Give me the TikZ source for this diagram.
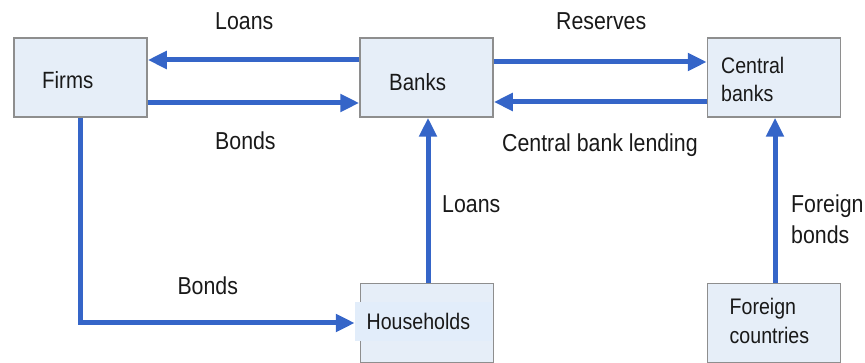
\documentclass[tikz,border=0pt]{standalone}
\usepackage{fontspec}
\setmainfont{Liberation Sans}[FakeStretch=0.87]
\usetikzlibrary{arrows.meta}
\definecolor{flowblue}{HTML}{3565C8}
\definecolor{boxfill}{HTML}{E6EEF8}
\definecolor{bandfill}{HTML}{E2EDFA}
\definecolor{boxline}{HTML}{8E8E8E}
\tikzset{
  acct/.style={draw=boxline, line width=1.5pt, fill=boxfill, minimum width=133pt, minimum height=79pt, inner sep=0pt},
  lbl/.style={anchor=base west, inner sep=0pt, font=\fontsize{24.5}{28}\selectfont, text=black!90},
  boxtxt/.style={anchor=base west, inner sep=0pt, font=\fontsize{23.5}{28}\selectfont, text=black!90},
  smalltxt/.style={anchor=base west, inner sep=0pt, font=\fontsize{22.5}{28}\selectfont, text=black!90},
  flow/.style={draw=flowblue, line width=5pt, -{Triangle[length=19pt,width=17pt]}}
}
\begin{document}
\begin{tikzpicture}[x=1pt,y=-1pt]
\useasboundingbox (0,0) rectangle (865,363);
% boxes
\node[acct] (firms) at (80.5,77.5) {};
\node[acct] (banks) at (426.5,77.5) {};
\node[acct] (cb) at (774,77.5) {};
\node[acct] (households) at (427,323) {};
\node[acct] (foreign) at (774,323) {};
\fill[bandfill] (355,302) rectangle (492,341);
% box texts
\node[boxtxt] (tfirms) at (42,88.5) {Firms};
\node[boxtxt] (tbanks) at (389,90.5) {Banks};
\node[smalltxt] (tcb1) at (721,73.5) {Central};
\node[smalltxt] (tcb2) at (721,101.5) {banks};
\node[smalltxt] (thh) at (366.5,329.3) {Households};
\node[smalltxt] (tfc1) at (729.5,315) {Foreign};
\node[smalltxt] (tfc2) at (729.5,343.3) {countries};
% connectors
\draw[flow] ([yshift=17.5pt]banks.west) -- ([yshift=17.5pt]firms.east);
\draw[flow] ([yshift=-25.5pt]firms.east) -- ([yshift=-25.5pt]banks.west);
\draw[flow] ([yshift=15.5pt]banks.east) -- ([yshift=15.5pt]cb.west);
\draw[flow] ([yshift=-24.5pt]cb.west) -- ([yshift=-24.5pt]banks.east);
\draw[flow] ([xshift=1pt]households.north) -- ([xshift=1pt]households.north |- banks.south);
\draw[flow] ([xshift=1pt]foreign.north) -- ([xshift=1pt]foreign.north |- cb.south);
\draw[flow] ([xshift=-0.5pt]firms.south) |- ([xshift=-5pt]households.west);
% labels
\node[lbl] (lloans) at (215,29.3) {Loans};
\node[lbl] (lbonds) at (215,150) {Bonds};
\node[lbl] (lres) at (556,30) {Reserves};
\node[lbl] (llend) at (502,151.5) {Central bank lending};
\node[lbl] (lloans2) at (442,212.3) {Loans};
\node[lbl] (lbonds2) at (177.3,294.3) {Bonds};
\node[lbl] (lfb1) at (791,212.3) {Foreign};
\node[lbl] (lfb2) at (791,243.3) {bonds};
\end{tikzpicture}
\end{document}
